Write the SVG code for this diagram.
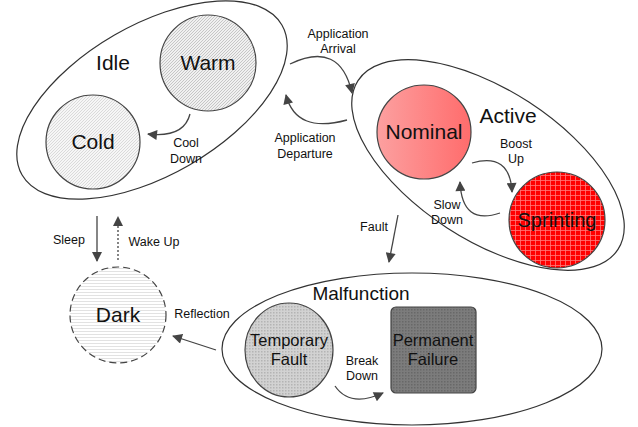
<svg xmlns="http://www.w3.org/2000/svg" width="638" height="427" viewBox="0 0 638 427">
<style>
text{font-family:"Liberation Sans",Arial,sans-serif;fill:#111;text-anchor:middle}
.big{font-size:21px}
.mid{font-size:16.5px}
.lbl{font-size:12.5px}
.group{fill:#fff;stroke:#333;stroke-width:1.2}
.node{stroke:#444;stroke-width:1.2}
.conn{fill:none;stroke:#444;stroke-width:1.3}
</style>
<defs>
<marker id="ah" viewBox="0 0 10 10" refX="9" refY="5" markerWidth="11" markerHeight="10" markerUnits="userSpaceOnUse" orient="auto">
<path d="M0,0 L10,5 L0,10 z" fill="#444"/>
</marker>
<pattern id="diagW" width="3" height="3" patternUnits="userSpaceOnUse">
<rect width="3" height="3" fill="#f0f0f0"/>
<path d="M-1,1 L1,-1 M0,3 L3,0 M2,4 L4,2" stroke="#b4b4b4" stroke-width="0.7"/>
</pattern>
<pattern id="diagC" width="3" height="3" patternUnits="userSpaceOnUse">
<rect width="3" height="3" fill="#f6f6f6"/>
<path d="M-1,1 L1,-1 M0,3 L3,0 M2,4 L4,2" stroke="#cfcfcf" stroke-width="0.7"/>
</pattern>
<pattern id="horiz" width="4" height="3" patternUnits="userSpaceOnUse">
<rect width="4" height="3" fill="#fff"/>
<path d="M0,1.5 L4,1.5" stroke="#e2e2e2" stroke-width="1"/>
</pattern>
<pattern id="dots" width="3" height="3" patternUnits="userSpaceOnUse">
<rect width="3" height="3" fill="#d2d2d2"/>
<rect width="1.5" height="1.5" fill="#b4b4b4"/>
</pattern>
<pattern id="dark" width="3" height="3" patternUnits="userSpaceOnUse">
<rect width="3" height="3" fill="#7c7c7c"/>
<rect width="1.5" height="1.5" fill="#686868"/>
</pattern>
<pattern id="grid" width="5" height="5" patternUnits="userSpaceOnUse">
<rect width="5" height="5" fill="#f00"/>
<path d="M0,0.5 L5,0.5 M0.5,0 L0.5,5" stroke="#ff7a7a" stroke-width="0.8"/>
</pattern>
<linearGradient id="pink" x1="0" y1="0" x2="1" y2="0">
<stop offset="0" stop-color="#fca0a0"/>
<stop offset="1" stop-color="#ff6c6c"/>
</linearGradient>
</defs>

<g id="idle">
<ellipse class="group" cx="152" cy="100" rx="150" ry="75" transform="rotate(-30 152 100)"/>
<text class="big" x="113" y="70">Idle</text>
</g>
<g id="warm">
<circle class="node" cx="208" cy="63" r="48" fill="url(#diagW)"/>
<text class="big" x="208" y="70">Warm</text>
</g>
<g id="cold">
<circle class="node" cx="93" cy="142" r="47" fill="url(#diagC)"/>
<text class="big" x="93" y="149">Cold</text>
</g>

<g id="active">
<ellipse class="group" cx="488" cy="165" rx="155" ry="75" transform="rotate(33 488 165)"/>
<text class="big" x="508" y="123">Active</text>
</g>
<g id="nominal">
<circle class="node" cx="424" cy="132" r="47" fill="url(#pink)"/>
<text class="big" x="424" y="139">Nominal</text>
</g>
<g id="sprinting">
<circle class="node" cx="557" cy="220" r="48" fill="url(#grid)"/>
<text class="big" x="557" y="227" style="font-size:20px">Sprinting</text>
</g>

<g id="malfunction">
<ellipse class="group" cx="412" cy="349" rx="190" ry="76"/>
<text class="big" x="361" y="300" style="font-size:19px">Malfunction</text>
</g>
<g id="temporary">
<ellipse class="node" cx="289" cy="350" rx="44" ry="47" fill="url(#dots)"/>
<text class="mid" x="289" y="346">Temporary</text>
<text class="mid" x="289" y="365">Fault</text>
</g>
<g id="permanent">
<rect class="node" x="391" y="307" width="85" height="86" rx="5" fill="url(#dark)"/>
<text class="mid" x="433" y="346">Permanent</text>
<text class="mid" x="433" y="365">Failure</text>
</g>

<g id="dark-node">
<circle cx="118" cy="315" r="48" fill="url(#horiz)" stroke="#444" stroke-width="1.2" stroke-dasharray="7,4"/>
<text class="big" x="118" y="322">Dark</text>
</g>

<g id="connectors">
<path class="conn" d="M190,114 Q184,138 148,134" marker-end="url(#ah)"/>
<path class="conn" d="M290,64 Q340,40 352,93" marker-end="url(#ah)"/>
<path class="conn" d="M347,120 Q296,134 286,95" marker-end="url(#ah)"/>
<path class="conn" d="M472,163 Q510,152 512,192" marker-end="url(#ah)"/>
<path class="conn" d="M500,213 Q462,226 460,182" marker-end="url(#ah)"/>
<path class="conn" d="M398,215 L389,262" marker-end="url(#ah)"/>
<path class="conn" d="M97,216 L97,261" marker-end="url(#ah)"/>
<path class="conn" d="M118,260 L118,217" stroke-dasharray="2,2" marker-end="url(#ah)"/>
<path class="conn" d="M216,350 L173,336" marker-end="url(#ah)"/>
<path class="conn" d="M335,386 Q350,408 383,393" marker-end="url(#ah)"/>
<text class="lbl" x="186" y="147">Cool</text>
<text class="lbl" x="186" y="163">Down</text>
<text class="lbl" x="338" y="38">Application</text>
<text class="lbl" x="338" y="53">Arrival</text>
<text class="lbl" x="305" y="142">Application</text>
<text class="lbl" x="305" y="158">Departure</text>
<text class="lbl" x="516" y="148">Boost</text>
<text class="lbl" x="516" y="163">Up</text>
<text class="lbl" x="447" y="209">Slow</text>
<text class="lbl" x="447" y="224">Down</text>
<text class="lbl" x="374" y="231">Fault</text>
<text class="lbl" x="69" y="244">Sleep</text>
<text class="lbl" x="154" y="246">Wake Up</text>
<text class="lbl" x="202" y="318">Reflection</text>
<text class="lbl" x="362" y="365">Break</text>
<text class="lbl" x="362" y="380">Down</text>
</g>
</svg>
